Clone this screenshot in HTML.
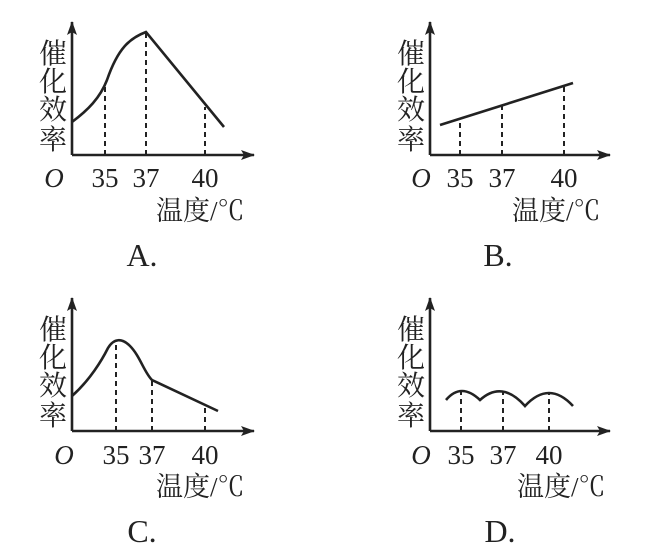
<!DOCTYPE html>
<html><head><meta charset="utf-8"><style>
html,body{margin:0;padding:0;background:#fff;}
svg{display:block;}
text{font-family:"Liberation Serif","Noto Serif CJK SC",serif;fill:#222;}
.cj{font-family:"Noto Serif CJK SC","Noto Sans CJK SC",serif;}
</style></head><body>
<svg width="668" height="556" viewBox="0 0 668 556" xmlns="http://www.w3.org/2000/svg">
<defs>
<marker id="ar" markerWidth="14" markerHeight="10" refX="13" refY="5" orient="auto" markerUnits="userSpaceOnUse">
<path d="M0,0 L14,5 L0,10 L3,5 Z" fill="#222"/></marker>
</defs>
<g stroke="#222" stroke-width="2.6" fill="none">
<line x1="72" y1="155" x2="72" y2="22" marker-end="url(#ar)"/>
<line x1="72" y1="155" x2="254" y2="155" marker-end="url(#ar)"/>
<path d="M72,122 C88,110 100,98 107,80 C118,48 130,38 146,32 L224,127"/>
<line x1="430" y1="155" x2="430" y2="22" marker-end="url(#ar)"/>
<line x1="430" y1="155" x2="610" y2="155" marker-end="url(#ar)"/>
<line x1="440" y1="125" x2="573" y2="83"/>
<line x1="72" y1="431" x2="72" y2="298" marker-end="url(#ar)"/>
<line x1="72" y1="431" x2="254" y2="431" marker-end="url(#ar)"/>
<path d="M72,396 C90,380 102,360 108,348 C114,338 122,338 130,346 C140,356 144,372 152,380 L218,411"/>
<line x1="430" y1="431" x2="430" y2="298" marker-end="url(#ar)"/>
<line x1="430" y1="431" x2="610" y2="431" marker-end="url(#ar)"/>
<path d="M446,400 Q461,382 480,400 Q502,380 525,406 Q549,380 573,406"/>
</g>
<g stroke="#222" stroke-width="2" stroke-dasharray="5,4">
<line x1="105" y1="155" x2="105" y2="86"/>
<line x1="146" y1="155" x2="146" y2="33"/>
<line x1="205" y1="155" x2="205" y2="107"/>
<line x1="460" y1="155" x2="460" y2="119"/>
<line x1="502" y1="155" x2="502" y2="106"/>
<line x1="564" y1="155" x2="564" y2="87"/>
<line x1="116" y1="431" x2="116" y2="343"/>
<line x1="152" y1="431" x2="152" y2="381"/>
<line x1="205" y1="431" x2="205" y2="406"/>
<line x1="461" y1="431" x2="461" y2="392"/>
<line x1="503" y1="431" x2="503" y2="392"/>
<line x1="549" y1="431" x2="549" y2="393"/>
</g>
<g font-size="27" text-anchor="middle">
<text x="54" y="187" font-style="italic">O</text>
<text x="105" y="187">35</text><text x="146" y="187">37</text><text x="205" y="187">40</text>
<text x="142" y="266" font-size="32">A.</text>
<text x="421" y="187" font-style="italic">O</text>
<text x="460" y="187">35</text><text x="502" y="187">37</text><text x="564" y="187">40</text>
<text x="498" y="266" font-size="32">B.</text>
<text x="64" y="464" font-style="italic">O</text>
<text x="116" y="464">35</text><text x="152" y="464">37</text><text x="205" y="464">40</text>
<text x="142" y="542" font-size="32">C.</text>
<text x="421" y="464" font-style="italic">O</text>
<text x="461" y="464">35</text><text x="503" y="464">37</text><text x="549" y="464">40</text>
<text x="500" y="542" font-size="32">D.</text>
</g>
<g class="cj" font-size="28" text-anchor="middle">
<text x="53" y="63">催</text><text x="53" y="91">化</text><text x="53" y="119">效</text><text x="53" y="149">率</text>
<text x="411" y="63">催</text><text x="411" y="91">化</text><text x="411" y="119">效</text><text x="411" y="149">率</text>
<text x="53" y="339">催</text><text x="53" y="367">化</text><text x="53" y="395">效</text><text x="53" y="425">率</text>
<text x="411" y="339">催</text><text x="411" y="367">化</text><text x="411" y="395">效</text><text x="411" y="425">率</text>
</g>
<g class="cj" font-size="27">
<text x="156" y="220">温度/℃</text>
<text x="512" y="220">温度/℃</text>
<text x="156" y="496">温度/℃</text>
<text x="517" y="496">温度/℃</text>
</g>
</svg>
</body></html>
